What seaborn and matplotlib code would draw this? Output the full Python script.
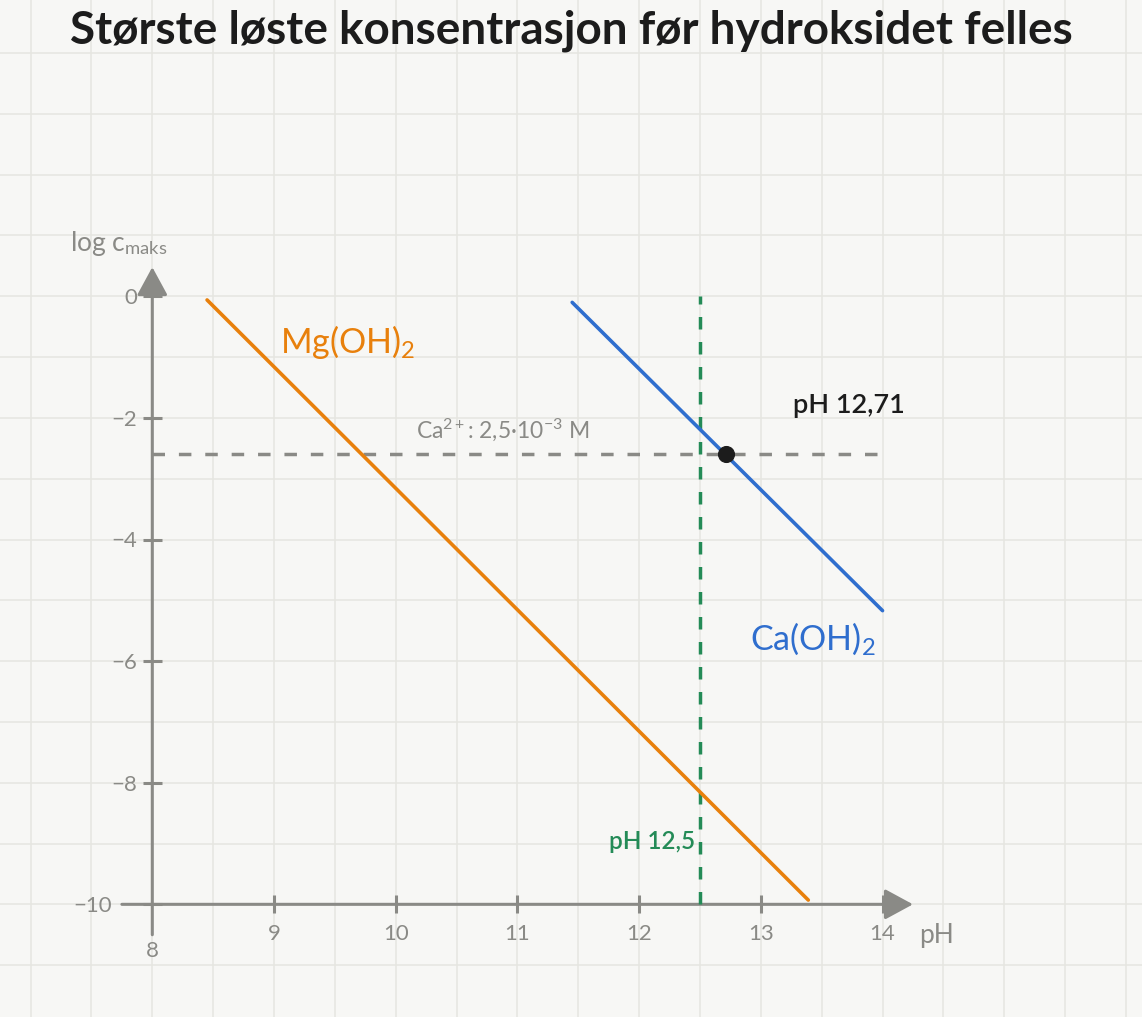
"""
    Max. dissolved concentration before the hydroxide precipitates (Mg(OH)2 vs Ca(OH)2)
"""
import numpy as np
import seaborn as sns
import matplotlib.pyplot as plt

# values
mg_ph = [8.45, 13.39]           # Mg(OH)2 line, pH
mg_logc = [-0.06, -9.93]        # Mg(OH)2 line, log c_maks
ca_ph = [11.45, 14.0]           # Ca(OH)2 line, pH
ca_logc = [-0.10, -5.17]        # Ca(OH)2 line, log c_maks
ca_level = -2.6                 # log(2.5e-3 M)
ph_limit = 12.5                 # green dashed line
ph_cross = [12.71]              # Ca(OH)2 starts to precipitate
logc_cross = [-2.6]
x_ticks = [9, 10, 11, 12, 13, 14]
y_ticks = [0, -2, -4, -6, -8, -10]

BG = "#f7f7f5"
GRID = "#e6e6e1"
AXC = "#8a8a86"
ORANGE = "#e8800c"
BLUE = "#2f6ece"
GREEN = "#248b57"
DARK = "#1c1c1c"

sns.set_theme(style="whitegrid", rc={"axes.facecolor": BG,
                                     "figure.facecolor": BG,
                                     "grid.color": GRID,
                                     "grid.linewidth": 1.1})
plt.rcParams['font.family'] = ['Lato', 'DejaVu Sans']
plt.rcParams['mathtext.fontset'] = 'custom'
plt.rcParams['mathtext.rm'] = 'Lato'
plt.rcParams['mathtext.it'] = 'Lato:italic'
plt.rcParams['mathtext.bf'] = 'Lato:bold'

fig = plt.figure(figsize=(11.42, 10.17), dpi=100)
ax = fig.add_axes([0, 0, 1, 1])
# whole figure is the data area: pH 8 -> 152 px, 1 pH = 121.7 px; log c 0 -> 296 px, 1 unit = 60.8 px
ax.set_xlim(6.7486, 16.132)
ax.set_ylim(-11.853, 4.873)
ax.set_xticks(np.arange(7, 16.01, 0.5))
ax.set_yticks(np.arange(-11, 4.01, 1))
ax.tick_params(length=0, labelbottom=False, labelleft=False)
for s in ax.spines.values():
    s.set_visible(False)

# axes with arrows
arrow = dict(arrowstyle="-|>,head_length=1.75,head_width=0.95", color=AXC, lw=2.2,
             shrinkA=0, shrinkB=0, mutation_scale=10)
ax.annotate("", xy=(14.25, -10), xytext=(7.75, -10), arrowprops=arrow, zorder=3)
ax.annotate("", xy=(8, 0.48), xytext=(8, -10.5), arrowprops=arrow, zorder=3)
ax.vlines(x_ticks, -10.15, -9.85, color=AXC, lw=2.2, zorder=3)
ax.hlines(y_ticks, 7.925, 8.08, color=AXC, lw=2.2, zorder=3)

# tick labels
for v in x_ticks:
    ax.text(v, -10.49, str(v), ha='center', va='center', fontsize=16, color=AXC)
ax.text(8, -10.76, "8", ha='center', va='center', fontsize=16, color=AXC)
for v in y_ticks:
    xr = 7.67 if v == -10 else 7.875
    ax.text(xr, v - 0.03, str(v).replace("-", "\u2212"), ha='right', va='center',
            fontsize=16, color=AXC)
ax.text(7.324, 0.75, r"log c$_{\mathregular{maks}}$", ha='left', va='baseline',
        fontsize=19, color=AXC)
ax.text(14.3, -10.64, "pH", ha='left', va='baseline', fontsize=19, color=AXC)

# helper lines
ax.hlines(ca_level, 8.0, 14.0, color=AXC, lw=2.5, linestyles=(0, (3.6, 4.0)), zorder=4)
ax.vlines(ph_limit, -10, 0, color=GREEN, lw=2.5, linestyles=(0, (3.6, 3.6)), zorder=4)

# solubility lines
sns.lineplot(x=mg_ph, y=mg_logc, color=ORANGE, lw=2.6, ax=ax, zorder=5)
sns.lineplot(x=ca_ph, y=ca_logc, color=BLUE, lw=2.6, ax=ax, zorder=5)
sns.scatterplot(x=ph_cross, y=logc_cross, color=DARK, s=130, edgecolor=None, ax=ax, zorder=6)

# annotations
ax.text(9.049, -0.933, r"Mg(OH)$_{\mathregular{2}}$", ha='left', va='baseline',
        fontsize=24.5, color=ORANGE)
ax.text(12.911, -5.817, r"Ca(OH)$_{\mathregular{2}}$", ha='left', va='baseline',
        fontsize=24.5, color=BLUE)
ax.text(13.267, -1.919, "pH 12,71", ha='left', va='baseline', fontsize=19.5,
        fontweight='semibold', color=DARK)
ax.text(10.167, -2.336, "Ca$^{\\mathregular{2+}}$: 2,5·10$^{\\mathregular{\u22123}}$ M", ha='left',
        va='baseline', fontsize=16.5, color=AXC)
ax.text(12.46, -9.095, "pH 12,5", ha='right', va='baseline', fontsize=17.5,
        fontweight='semibold', color=GREEN)

fig.text(0.5, 1 - 31 / 1017, "Største løste konsentrasjon før hydroksidet felles",
         ha='center', va='center', fontsize=33, fontweight='bold', color=DARK)

plt.savefig("out.png", dpi=100)
plt.close()
